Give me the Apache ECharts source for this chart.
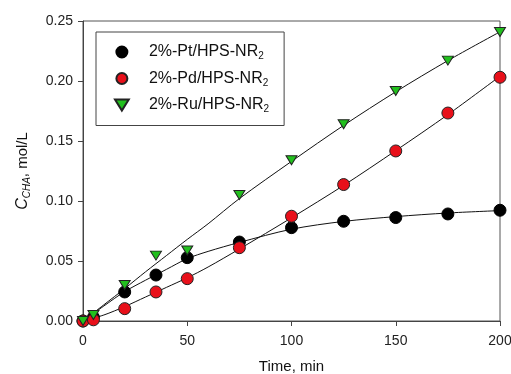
<!DOCTYPE html>
<html>
<head>
<meta charset="utf-8">
<script src="https://cdn.jsdelivr.net/npm/echarts@6/dist/echarts.min.js"></script>
<style>
  html, body { margin: 0; padding: 0; background: #fff; }
  #chart { width: 511px; height: 374px; }
</style>
</head>
<body>
<div id="chart"></div>
<script>
// measured points
const times = [0, 5, 20, 35, 50, 75, 100, 125, 150, 175, 200];
const ptValues = [0, 0.003, 0.0242, 0.0383, 0.0528, 0.0658, 0.0778, 0.0831, 0.0862, 0.0892, 0.0923];
const pdValues = [0, 0.001, 0.0103, 0.0242, 0.0353, 0.0611, 0.0873, 0.1137, 0.1417, 0.1733, 0.2031];
const ruValues = [0, 0.005, 0.030, 0.0545, 0.0587, 0.105, 0.134, 0.164, 0.1917, 0.217, 0.2408];

// fitted curves
const fitTimes = [0, 10, 20, 30, 40, 50, 60, 75, 100, 125, 150, 175, 200];
const ptFit = [0, 0.0125, 0.0245, 0.034, 0.043, 0.052, 0.058, 0.0655, 0.0765, 0.083, 0.087, 0.090, 0.092];
const pdFit = [0, 0.005, 0.012, 0.020, 0.028, 0.036, 0.045, 0.060, 0.086, 0.113, 0.142, 0.172, 0.204];
const ruFit = [0, 0.0135, 0.027, 0.041, 0.0545, 0.068, 0.081, 0.102, 0.133, 0.163, 0.191, 0.217, 0.241];

const seriesNames = ["2%-Pt/HPS-NR", "2%-Pd/HPS-NR", "2%-Ru/HPS-NR"];
const xTicks = [0, 50, 100, 150, 200];
const yTicks = [0, 0.05, 0.10, 0.15, 0.20, 0.25];

const pair = (xs, ys) => xs.map((x, i) => [x, ys[i]]);
const downTriangle = "path://M0,0 L10,0 L5,8 Z";

const chart = echarts.init(document.getElementById("chart"));
const font = "Liberation Sans, Arial, sans-serif";

const fitLine = (data) => ({
  type: "line",
  data: data,
  smooth: 0.3,
  showSymbol: false,
  silent: true,
  lineStyle: { color: "#111", width: 1 },
  z: 2,
});

const option = {
  animation: false,
  textStyle: { fontFamily: font },
  grid: {
    left: 83, right: 11, top: 21, bottom: 53,
    containLabel: false,
    outerBoundsMode: "none",
    show: true, borderColor: "#555", borderWidth: 1,
  },
  legend: {
    data: seriesNames,
    orient: "vertical",
    left: 96,
    top: 32,
    padding: [12, 15, 11, 18],
    itemWidth: 44,
    itemHeight: 11,
    itemGap: 9,
    borderColor: "#444",
    borderWidth: 1,
    formatter: (name) => name + "{sub|2}",
    textStyle: {
      fontSize: 16,
      color: "#111",
      fontFamily: font,
      rich: { sub: { fontSize: 10, padding: [9, 0, 0, 0], fontFamily: font, color: "#111" } },
    },
  },
  xAxis: {
    type: "value",
    min: xTicks[0],
    max: xTicks[xTicks.length - 1],
    interval: 50,
    name: "Time, min",
    nameLocation: "middle",
    nameGap: 38,
    nameTextStyle: { fontSize: 15, color: "#111", fontFamily: font },
    axisLine: { lineStyle: { color: "#444" } },
    axisTick: { length: 5, lineStyle: { color: "#444" } },
    axisLabel: { fontSize: 14, color: "#222", margin: 13 },
    splitLine: { show: false },
  },
  yAxis: {
    type: "value",
    min: yTicks[0],
    max: yTicks[yTicks.length - 1],
    interval: 0.05,
    name: "{i|C}{s|CHA}{n|, mol/L}",
    nameLocation: "middle",
    nameGap: 51,
    nameRotate: 90,
    nameTextStyle: {
      rich: {
        i: { fontSize: 16, fontStyle: "italic", color: "#111", fontFamily: font },
        s: { fontSize: 10, fontStyle: "italic", color: "#111", padding: [9, 0, 0, 0], fontFamily: font },
        n: { fontSize: 15, color: "#111", fontFamily: font },
      },
    },
    axisLine: { show: true, lineStyle: { color: "#444" } },
    axisTick: { show: true, length: 5, lineStyle: { color: "#444" } },
    axisLabel: { fontSize: 14, color: "#222", margin: 10, formatter: (v) => v.toFixed(2) },
    splitLine: { show: false },
  },
  series: [
    fitLine(pair(fitTimes, ptFit)),
    fitLine(pair(fitTimes, pdFit)),
    fitLine(pair(fitTimes, ruFit)),
    {
      name: seriesNames[0],
      type: "scatter",
      data: pair(times, ptValues),
      symbol: "circle",
      symbolSize: 12,
      itemStyle: { color: "#000", borderColor: "#000", borderWidth: 1, opacity: 1 },
      z: 3,
    },
    {
      name: seriesNames[1],
      type: "scatter",
      data: pair(times, pdValues),
      symbol: "circle",
      symbolSize: 12,
      itemStyle: { color: "#e8101a", borderColor: "#222", borderWidth: 1, opacity: 1 },
      z: 4,
    },
    {
      name: seriesNames[2],
      type: "scatter",
      data: pair(times, ruValues),
      symbol: downTriangle,
      symbolSize: [11, 9],
      itemStyle: { color: "#22c01e", borderColor: "#222", borderWidth: 1, opacity: 1 },
      z: 5,
    },
  ],
};

chart.setOption(option);
window.addEventListener("resize", () => chart.resize());
</script>
</body>
</html>
